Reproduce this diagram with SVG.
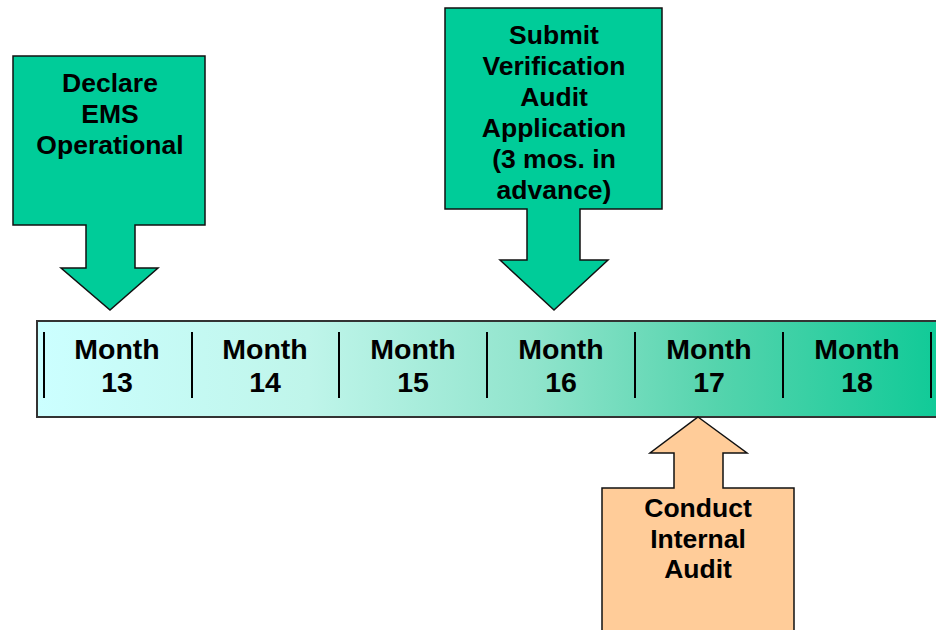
<svg xmlns="http://www.w3.org/2000/svg" width="936" height="630" viewBox="0 0 936 630">
<defs>
<linearGradient id="barGrad" x1="0" y1="0" x2="1" y2="0">
<stop offset="0" stop-color="#ccffff"/>
<stop offset="0.3" stop-color="#bff5ea"/>
<stop offset="0.55" stop-color="#90e4cc"/>
<stop offset="0.75" stop-color="#55d4ad"/>
<stop offset="1" stop-color="#0fca97"/>
</linearGradient>
</defs>
<style>
.lbl{font-family:"Liberation Sans",Arial,sans-serif;font-weight:bold;font-size:26.5px;fill:#000;text-anchor:middle}
.mon{font-family:"Liberation Sans",Arial,sans-serif;font-weight:bold;font-size:28.5px;fill:#000;text-anchor:middle}
.green{fill:#00cc99;stroke:#111;stroke-width:1.5}
.orange{fill:#ffcc99;stroke:#111;stroke-width:1.5}
.div{stroke:#000;stroke-width:2}
</style>
<g id="timeline">
<rect x="37" y="321" width="905" height="96" fill="url(#barGrad)" stroke="#333" stroke-width="2"/>
<g id="dividers">
<line class="div" x1="44" y1="332" x2="44" y2="398"/>
<line class="div" x1="192" y1="332" x2="192" y2="398"/>
<line class="div" x1="339" y1="332" x2="339" y2="398"/>
<line class="div" x1="487" y1="332" x2="487" y2="398"/>
<line class="div" x1="635" y1="332" x2="635" y2="398"/>
<line class="div" x1="783" y1="332" x2="783" y2="398"/>
<line class="div" x1="931" y1="332" x2="931" y2="398"/>
</g>
<g id="m13"><text class="mon" x="117" y="359">Month</text><text class="mon" x="117" y="392">13</text></g>
<g id="m14"><text class="mon" x="265" y="359">Month</text><text class="mon" x="265" y="392">14</text></g>
<g id="m15"><text class="mon" x="413" y="359">Month</text><text class="mon" x="413" y="392">15</text></g>
<g id="m16"><text class="mon" x="561" y="359">Month</text><text class="mon" x="561" y="392">16</text></g>
<g id="m17"><text class="mon" x="709" y="359">Month</text><text class="mon" x="709" y="392">17</text></g>
<g id="m18"><text class="mon" x="857" y="359">Month</text><text class="mon" x="857" y="392">18</text></g>
</g>
<g id="declare">
<path class="green" d="M13,56 H205 V225 H135 V268 H158 L110,310 L61,268 H86 V225 H13 Z"/>
<text class="lbl" x="110" y="92">Declare</text>
<text class="lbl" x="110" y="123">EMS</text>
<text class="lbl" x="110" y="154">Operational</text>
</g>
<g id="submit">
<path class="green" d="M445,8 H662 V209 H580 V260 H608 L554,310 L500,260 H527 V209 H445 Z"/>
<text class="lbl" x="554" y="44">Submit</text>
<text class="lbl" x="554" y="75">Verification</text>
<text class="lbl" x="554" y="106">Audit</text>
<text class="lbl" x="554" y="137">Application</text>
<text class="lbl" x="554" y="168">(3 mos. in</text>
<text class="lbl" x="554" y="199">advance)</text>
</g>
<g id="internal">
<path class="orange" d="M698,417 L747,453 H723 V488 H794 V640 H602 V488 H674 V453 H650 Z"/>
<text class="lbl" x="698" y="517">Conduct</text>
<text class="lbl" x="698" y="548">Internal</text>
<text class="lbl" x="698" y="578">Audit</text>
</g>
</svg>
